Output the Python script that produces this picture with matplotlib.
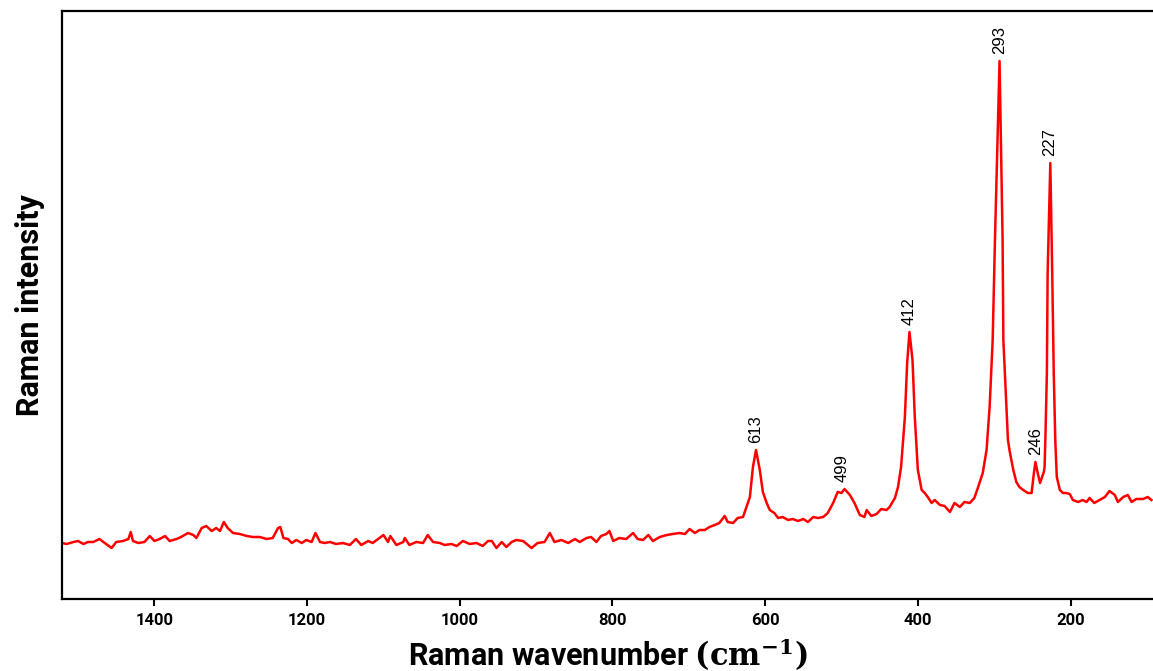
import numpy as np
import matplotlib
matplotlib.use("Agg")
import matplotlib.pyplot as plt

plt.rcParams["mathtext.fontset"] = "dejavuserif"

# Raman shift (cm^-1) and intensity (arbitrary units)
wavenumber = [
    1521, 1515, 1506, 1500, 1493, 1487, 1480, 1472, 1465, 1456, 1450, 1441, 1434, 1431, 1428,
    1421, 1413, 1406, 1400, 1393, 1386, 1380, 1371, 1365, 1356, 1349, 1345, 1338, 1332, 1325,
    1319, 1314, 1309, 1304, 1297, 1288, 1279, 1271, 1262, 1253, 1245, 1238,
    1235, 1231, 1225, 1220, 1214, 1207, 1201, 1194, 1189, 1183, 1177, 1170, 1162, 1153, 1144,
    1136, 1129, 1120, 1114, 1107, 1100, 1094, 1091, 1083, 1074, 1072, 1066, 1057, 1048, 1042,
    1035, 1026, 1020, 1011, 1004, 996, 987, 978, 970, 963,
    958, 952, 945, 939, 932, 926, 917, 906, 898, 889, 882, 876, 867, 858, 849, 843, 834, 828,
    821, 815, 808, 804, 799, 791, 782, 773, 767, 760, 753, 747, 738, 729, 721, 712, 705, 699,
    692, 686,
    679, 673, 666, 660, 653, 649, 642, 636, 629, 625, 620, 616, 612, 607, 603, 598, 594, 588,
    583, 577, 570, 564, 557, 550, 544, 537, 531, 524, 518, 511, 505, 500, 496, 489, 483, 476,
    470, 467, 461, 454, 448, 441, 437,
    430, 426, 422, 417, 414, 411, 407, 404, 400, 395, 391, 387, 382, 378, 371, 365, 358, 352,
    345, 339, 332, 326, 321, 315, 310, 307,
    306, 302, 299, 296, 293, 291, 289, 288, 284, 282, 280, 275, 271, 267, 262, 256, 251, 248,
    246, 243, 240, 235,
    234, 233, 231, 230, 226.5, 224, 222, 220, 218, 214,
    210, 206, 201, 197, 190, 184, 179, 175, 169, 162, 155, 149, 142, 138, 131, 125, 120, 114,
    105, 99, 94,
]
intensity = [
    56, 55, 57, 58, 55, 57, 57, 60, 56, 51, 57, 58, 60, 67, 58,
    56, 57, 63, 58, 60, 63, 58, 60, 62, 66, 64, 61, 71, 73, 68,
    71, 68, 77, 71, 66, 65, 63, 62, 62, 60, 61, 71,
    72, 61, 60, 56, 59, 56, 59, 57, 66, 57, 56, 57, 55, 56, 54,
    60, 54, 58, 56, 60, 64, 57, 63, 54, 57, 61, 54, 57, 56, 64,
    57, 56, 54, 55, 53, 58, 55, 56, 53, 58,
    58, 51, 57, 52, 57, 59, 58, 51, 56, 57, 66, 57, 59, 56, 60, 57, 61, 62,
    57, 63, 65, 68, 58, 61, 60, 66, 60, 59, 64, 58, 62, 64, 65, 66, 65, 70,
    66, 69,
    69, 72, 74, 76, 83, 77, 76, 81, 82, 91, 102, 132, 149, 129, 107, 96, 89, 86,
    81, 82, 79, 80, 78, 80, 77, 82, 81, 82, 86, 96, 107, 106, 110, 104, 96, 84,
    82, 89, 83, 85, 90, 89, 92,
    101, 112, 132, 182, 236, 267, 239, 182, 129, 109, 106, 102, 96, 99, 94, 93, 87, 96,
    92, 97, 96, 101, 112, 126, 149, 182,
    192, 259, 359, 450, 538, 450, 359, 259, 192, 159, 149, 129, 117, 112, 109, 106, 106, 126,
    137, 126, 116, 127,
    132, 159, 226, 326, 436, 326, 226, 159, 122, 109,
    106, 106, 105, 99, 97, 99, 97, 101, 96, 99, 102, 108, 104, 97, 102, 104, 97, 100,
    100, 102, 99,
]

# Annotated peaks
peak_labels = [613, 499, 412, 293, 246, 227]

x_ticks = [1400, 1200, 1000, 800, 600, 400, 200]

W, H = 1153, 671
fig = plt.figure(figsize=(W / 100, H / 100), dpi=100)
ax = fig.add_axes([62 / W, 1 - 599 / H, (W - 62) / W, (599 - 11) / H])

x = np.array(wavenumber, dtype=float)
y = np.array(intensity, dtype=float)
ax.plot(x, y, color="#ff0000", linewidth=1.8, solid_joinstyle="round")

ax.set_xlim(1521, 92)
ax.set_ylim(0, 588)
ax.set_xticks(x_ticks)
ax.set_xticklabels([str(t) for t in x_ticks])
ax.set_yticks([])

for s in ["left", "bottom", "top"]:
    ax.spines[s].set_linewidth(1.6)
ax.spines["right"].set_visible(False)

ax.tick_params(axis="x", direction="out", length=5, width=1.5, pad=5)
for lab in ax.get_xticklabels():
    lab.set_fontfamily(["Roboto", "DejaVu Sans"])
    lab.set_fontweight("bold")
    lab.set_fontsize(12)

ax.set_xlabel(r"Raman wavenumber $\mathbf{(cm^{-1})}$", fontsize=22, fontweight="bold",
              family=["Roboto", "DejaVu Sans"], labelpad=6)
ax.set_ylabel("Raman intensity", fontsize=22, fontweight="bold",
              family=["Roboto", "DejaVu Sans"], labelpad=12)

for p in peak_labels:
    mask = np.abs(x - p) <= 6
    ypk = y[mask].max()
    ax.annotate(str(p), xy=(p, ypk), xytext=(0, 5), textcoords="offset points",
                rotation=90, ha="center", va="bottom", fontsize=12,
                family=["Liberation Sans Narrow", "Liberation Sans", "DejaVu Sans"])

fig.savefig("out.png", dpi=100)
